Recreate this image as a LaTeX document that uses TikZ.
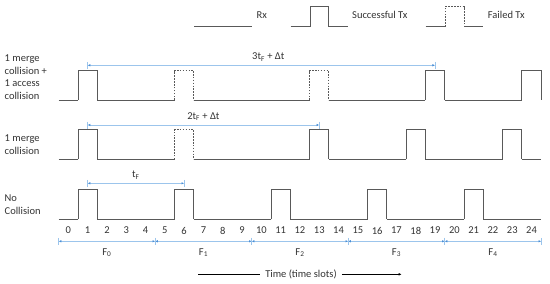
\documentclass[tikz,border=0pt]{standalone}
\usepackage{fontspec}
\setmainfont{Carlito}
\usetikzlibrary{arrows.meta}
\definecolor{siggray}{HTML}{595959}
\definecolor{dimblue}{HTML}{9CC5EC}
\definecolor{tipblue}{HTML}{4A8FD6}
\definecolor{txtgray}{HTML}{333333}

\tikzset{
  sig/.style={draw=siggray,line width=1pt},
  failsig/.style={sig,dash pattern=on 1.6pt off 1.3pt},
  dimline/.style={draw=dimblue,line width=0.6pt,
    {Latex[length=2.6pt,width=2.4pt,color=tipblue]}-{Latex[length=2.6pt,width=2.4pt,color=tipblue]}},
  dimtick/.style={draw=dimblue,line width=0.6pt},
  lbl/.style={font=\fontsize{10.5}{12.7}\selectfont,text=txtgray,inner sep=0pt},
}
% one transmission slot: #1 slot, #2 style, #3 baseline
\newcommand{\txpulse}[3]{\draw[#2] (#1,#3) -- (#1,#3-29.5) -- (#1+1,#3-29.5) -- (#1+1,#3);}

\begin{document}
\begin{tikzpicture}[x=1pt,y=-1pt]
  \useasboundingbox (0,0) rectangle (550,284);

  % legend
  \draw[sig] (194,26.7) -- (251.7,26.7);
  \node[lbl,anchor=west] (rxlbl) at (256.5,15) {Rx};
  \draw[sig] (290.7,26.7) -- (310,26.7) -- (310,6.7) -- (328.3,6.7) -- (328.3,26.7) -- (347.7,26.7);
  \node[lbl,anchor=west] (oklbl) at (352,15) {Successful Tx};
  \draw[sig] (425.7,26.7) -- (445,26.7);
  \draw[failsig] (445,26.7) -- (445,6.7) -- (464,6.7) -- (464,26.7);
  \draw[sig] (464,26.7) -- (483,26.7);
  \node[lbl,anchor=west] (faillbl) at (487.7,15) {Failed Tx};

  % row labels
  \node[lbl,anchor=west,align=left] (rowA) at (4.5,77.2) {1 merge\\collision +\\1 access\\collision};
  \node[lbl,anchor=west,align=left] (rowB) at (4.5,144.7) {1 merge\\collision};
  \node[lbl,anchor=west,align=left] (rowC) at (4.5,205) {No\\Collision};

  \begin{scope}[xshift=58.7pt,x=19.3pt]
    % 1 merge + 1 access collision
    \foreach \a/\b in {0/1,2/6,7/13,14/19,20/24}
      \draw[sig] (\a,100) -- (\b,100);
    \foreach \s/\st in {1/sig,6/failsig,13/failsig,19/sig,24/sig}
      {\txpulse{\s}{\st}{100}}
    % 1 merge collision
    \foreach \a/\b in {0/1,2/6,7/13,14/18,19/23,24/25}
      \draw[sig] (\a,159.3) -- (\b,159.3);
    \foreach \s/\st in {1/sig,6/failsig,13/sig,18/sig,23/sig}
      {\txpulse{\s}{\st}{159.3}}
    % no collision
    \foreach \a/\b in {0/1,2/6,7/11,12/16,17/21,22/25}
      \draw[sig] (\a,219) -- (\b,219);
    \foreach \s in {1,6,11,16,21}
      {\txpulse{\s}{sig}{219}}

    % frame distances
    \coordinate (dA0) at (1.5,65.3);  \coordinate (dA1) at (19.5,65.3);
    \coordinate (dB0) at (1.5,125);   \coordinate (dB1) at (13.5,125);
    \coordinate (dC0) at (1.5,183.3); \coordinate (dC1) at (6.5,183.3);
    \draw[dimline] (dA0) -- node[lbl,pos=0.52,above=4pt] (dAlbl) {3t\textsubscript{F} + Δt} (dA1);
    \draw[dimline] (dB0) -- node[lbl,above=4pt] (dBlbl) {2t\textsubscript{F} + Δt} (dB1);
    \draw[dimline] (dC0) -- node[lbl,above=4pt] (dClbl) {t\textsubscript{F}} (dC1);
    \foreach \d in {dA0,dA1,dB0,dB1,dC0,dC1}
      \draw[dimtick] ([yshift=3.5pt]\d) -- ([yshift=-3.5pt]\d);

    % slot numbers
    \foreach \k in {0,...,24}
      \node[lbl] (n\k) at (\k+0.5,230.5) {\k};

    % frames
    \foreach \f in {0,...,4} {
      \coordinate (fa\f) at (5*\f,241.3);
      \coordinate (fb\f) at (5*\f+5,241.3);
      \draw[dimline] (fa\f) -- node[lbl,below=7pt] (F\f) {F\textsubscript{\f}} (fb\f);
      \draw[dimtick] ([yshift=3.5pt]fa\f) -- ([yshift=-3.5pt]fa\f);
      \draw[dimtick] ([yshift=3.5pt]fb\f) -- ([yshift=-3.5pt]fb\f);
    }
  \end{scope}

  % time axis
  \node[lbl] (timelbl) at (301,274) {Time (time slots)};
  \coordinate (t0) at (198,274.3);
  \coordinate (t1) at (401.7,274.3);
  \draw[black,line width=0.6pt] (t0) -- ([xshift=-5pt]timelbl.west |- t0);
  \draw[black,line width=0.6pt,-{Latex[length=3pt,width=2.6pt]}] ([xshift=5pt]timelbl.east |- t1) -- (t1);
\end{tikzpicture}
\end{document}
